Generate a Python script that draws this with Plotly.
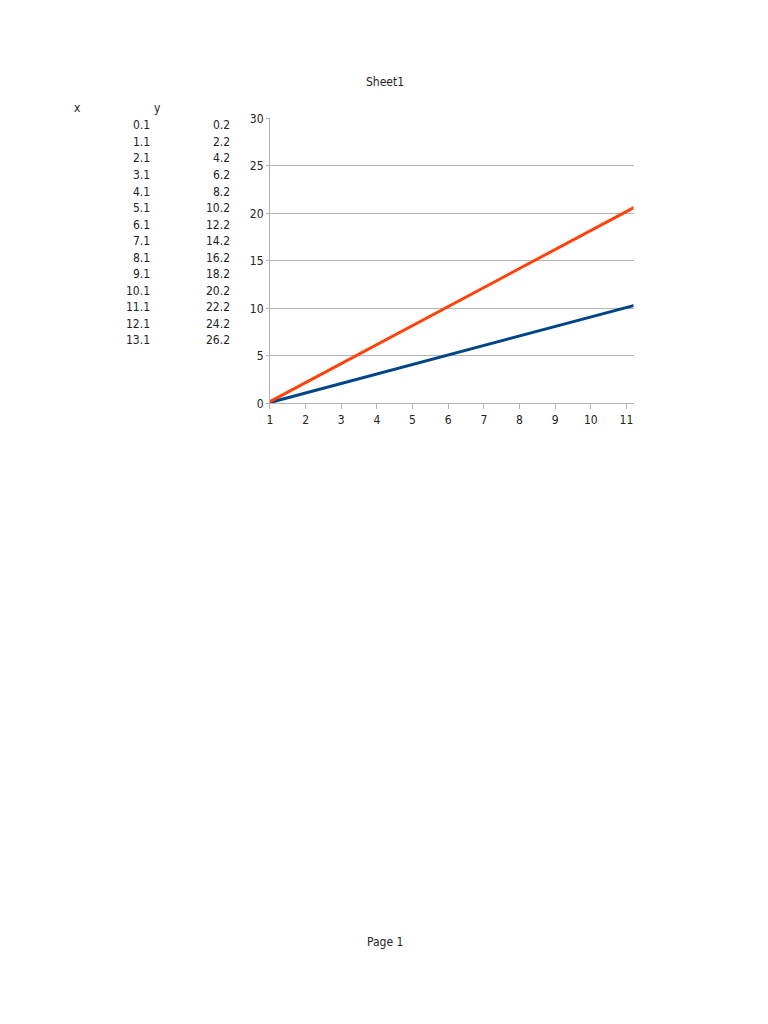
import plotly.graph_objs as go

# spreadsheet columns
col_x = [0.1, 1.1, 2.1, 3.1, 4.1, 5.1, 6.1, 7.1, 8.1, 9.1, 10.1, 11.1, 12.1, 13.1]
col_y = [0.2, 2.2, 4.2, 6.2, 8.2, 10.2, 12.2, 14.2, 16.2, 18.2, 20.2, 22.2, 24.2, 26.2]
categories = list(range(1, len(col_x) + 1))

W, H = 768, 1024
FONT = "DejaVu Sans Condensed, DejaVu Sans"
# the photographed page comes out slightly squeezed vertically, correct for it
Y_SCALE, Y_OFF = 0.986, 6.65


def px(x):
    return x / W


def py(y):
    return 1 - ((y - Y_OFF) / Y_SCALE) / H


fig = go.Figure()
fig.add_scatter(x=categories, y=col_x, mode='lines', name='x',
                line=dict(color='#004586', width=3), cliponaxis=True)
fig.add_scatter(x=categories, y=col_y, mode='lines', name='y',
                line=dict(color='#ff420e', width=3), cliponaxis=True)

annotations = [
    dict(text="Sheet1", x=px(383), y=py(82), xanchor='center', yanchor='middle'),
    dict(text="Page 1", x=px(383), y=py(941), xanchor='center', yanchor='middle'),
    dict(text="x", x=px(75), y=py(108), xanchor='center', yanchor='middle'),
    dict(text="y", x=px(155), y=py(108), xanchor='center', yanchor='middle'),
]
for i, (a, b) in enumerate(zip(col_x, col_y)):
    row_y = py(125 + i * 16.54)
    annotations.append(dict(text=str(a), x=px(150), y=row_y, xanchor='right', yanchor='middle'))
    annotations.append(dict(text=str(b), x=px(230), y=row_y, xanchor='right', yanchor='middle'))
for a in annotations:
    a.update(xref='paper', yref='paper', showarrow=False, font=dict(size=12, color='#222'))

fig.update_layout(
    width=W, height=H,
    margin=dict(l=0, r=0, t=0, b=0),
    paper_bgcolor='white', plot_bgcolor='white',
    showlegend=False,
    font=dict(family=FONT, size=12, color='#222'),
    annotations=annotations,
    xaxis=dict(domain=[px(268), px(633)], range=[1, 11.2], tickvals=categories[:11],
               showgrid=False, zeroline=False, showline=True, linecolor='#b3b3b3',
               ticks='outside', ticklen=5, tickcolor='#b3b3b3'),
    yaxis=dict(domain=[py(403), py(118)], range=[0, 30], dtick=5,
               showgrid=True, gridcolor='#b3b3b3', zeroline=False,
               showline=True, linecolor='#b3b3b3',
               ticks='outside', ticklen=3, tickcolor='#b3b3b3'),
)

# page margin off so the figure sits at the window's top-left corner
fig.write_html("out.html", config={'displayModeBar': False},
               post_script="document.body.style.margin='0';")
